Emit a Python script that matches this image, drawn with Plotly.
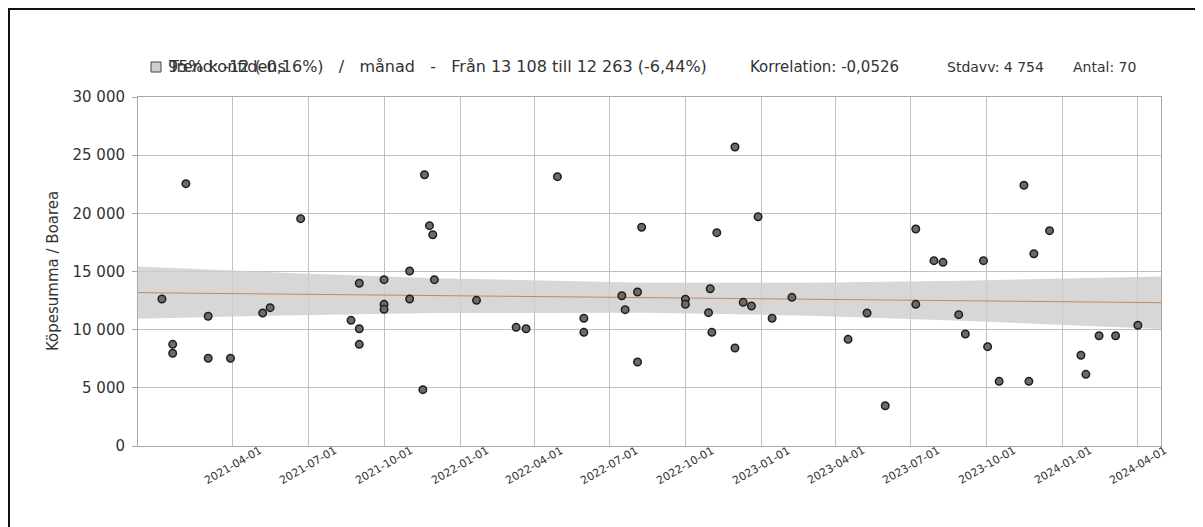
import plotly.graph_objects as go

# ---- data ----
sale_dates = [
    "2021-01-05", "2021-01-18", "2021-01-18", "2021-02-03", "2021-03-02", "2021-03-02",
    "2021-03-29", "2021-05-07", "2021-05-16", "2021-06-22", "2021-08-22", "2021-09-01",
    "2021-09-01", "2021-09-01", "2021-10-01", "2021-10-01", "2021-10-01", "2021-11-01",
    "2021-11-01", "2021-11-17", "2021-11-19", "2021-11-25", "2021-11-29", "2021-12-01",
    "2022-01-21", "2022-03-10", "2022-03-22", "2022-04-29", "2022-05-31", "2022-05-31",
    "2022-07-16", "2022-07-20", "2022-08-04", "2022-08-04", "2022-08-09", "2022-10-01",
    "2022-10-01", "2022-10-29", "2022-10-31", "2022-11-02", "2022-11-08", "2022-11-30",
    "2022-11-30", "2022-12-10", "2022-12-20", "2022-12-28", "2023-01-14", "2023-02-07",
    "2023-04-16", "2023-05-09", "2023-05-31", "2023-07-07", "2023-07-07", "2023-07-29",
    "2023-08-09", "2023-08-28", "2023-09-05", "2023-09-27", "2023-10-02", "2023-10-16",
    "2023-11-15", "2023-11-21", "2023-11-27", "2023-12-16", "2024-01-23", "2024-01-29",
    "2024-02-14", "2024-03-05", "2024-04-01",
]
price_per_area = [
    12640, 8740, 7970, 22550, 11150, 7540,
    7540, 11430, 11890, 19540, 10800, 13990,
    10080, 8740, 14300, 12180, 11750, 15040,
    12640, 4840, 23320, 18940, 18160, 14300,
    12520, 10200, 10080, 23150, 10980, 9770,
    12920, 11720, 13240, 7220, 18800, 12610,
    12180, 11460, 13520, 9770, 18340, 25700,
    8420, 12350, 12030, 19710, 10980, 12780,
    9170, 11430, 3460, 18650, 12180, 15930,
    15790, 11290, 9630, 15930, 8540, 5560,
    22410, 5560, 16530, 18510, 7800, 6160,
    9480, 9480, 10380,
]

trend_dates = ["2020-12-07", "2024-04-29"]
trend_values = [13180, 12320]

band_dates = ["2020-12-07", "2021-06-01", "2021-12-01", "2022-08-15",
              "2023-03-01", "2023-09-01", "2024-04-29"]
band_upper = [15420, 14895, 14430, 14042, 14033, 14206, 14577]
band_lower = [10940, 11221, 11432, 11462, 11197, 10768, 10063]

x_tick_dates = ["2021-04-01", "2021-07-01", "2021-10-01", "2022-01-01", "2022-04-01",
                "2022-07-01", "2022-10-01", "2023-01-01", "2023-04-01", "2023-07-01",
                "2023-10-01", "2024-01-01", "2024-04-01"]
y_ticks = [0, 5000, 10000, 15000, 20000, 25000, 30000]

NB = "\u00a0"
legend_band = "95% konfidens"
legend_trend = ("Trend: -12 (-0,16%)" + NB * 3 + "/" + NB * 3 + "månad"
                + NB * 3 + "-" + NB * 3 + "Från 13 108 till 12 263 (-6,44%)")
stat_corr = "Korrelation: -0,0526"
stat_std = "Stdavv: 4 754"
stat_n = "Antal: 70"
y_title = "Köpesumma / Boarea"

# ---- layout geometry (figure pixels) ----
W, H = 1195, 519
L, R, T, B = 130, 1153, 89, 438


def px_x(p):
    return (p - L) / (R - L)


def px_y(p):
    return (B - p) / (B - T)


FONT = "DejaVu Sans, Verdana, sans-serif"
TXT = "#333333"

fig = go.Figure()

# confidence band
fig.add_trace(go.Scatter(
    x=band_dates + band_dates[::-1],
    y=band_upper + band_lower[::-1],
    fill="toself", fillcolor="rgba(205,205,205,0.8)",
    line=dict(width=0), mode="lines", hoverinfo="skip", showlegend=False,
))
# trend line
fig.add_trace(go.Scatter(
    x=trend_dates, y=trend_values, mode="lines",
    line=dict(color="#c8875a", width=1), hoverinfo="skip", showlegend=False,
))
# points
fig.add_trace(go.Scatter(
    x=sale_dates, y=price_per_area, mode="markers",
    marker=dict(size=7.5, color="#6e6a66", line=dict(color="#1e1e1e", width=1.5)),
    showlegend=False,
))

ann = []
header = [
    (legend_band, 158, 16),
    (legend_trend, 158, 16),
    (stat_corr, 740, 15),
    (stat_std, 937, 14),
    (stat_n, 1063, 14),
]
for text, xp, size in header:
    ann.append(dict(
        text=text, x=px_x(xp), y=px_y(59), xref="paper", yref="paper",
        xanchor="left", yanchor="middle", showarrow=False,
        font=dict(family=FONT, size=size, color=TXT),
    ))
ann.append(dict(
    text=y_title, x=px_x(45), y=px_y(263), xref="paper", yref="paper",
    xanchor="center", yanchor="middle", textangle=-90, showarrow=False,
    font=dict(family=FONT, size=15, color=TXT),
))
# rotated x tick labels, centred under their ticks
for d in x_tick_dates:
    ann.append(dict(
        text=d, x=d, y=px_y(457), xref="x", yref="paper",
        xanchor="center", yanchor="middle", textangle=-30, showarrow=False,
        font=dict(family=FONT, size=11, color=TXT),
    ))

shapes = [
    # legend swatch
    dict(type="rect", xref="paper", yref="paper",
         x0=px_x(143), x1=px_x(153), y0=px_y(64), y1=px_y(54),
         fillcolor="#cfcfcf", line=dict(color="#444444", width=1)),
    # outer frame (top and left)
    dict(type="line", xref="paper", yref="paper",
         x0=px_x(0), x1=px_x(W + 5), y0=px_y(1), y1=px_y(1),
         line=dict(color="#111111", width=2)),
    dict(type="line", xref="paper", yref="paper",
         x0=px_x(1), x1=px_x(1), y0=px_y(0), y1=px_y(H + 5),
         line=dict(color="#111111", width=2)),
]

fig.update_layout(
    width=W, height=H,
    margin=dict(l=L, r=W - R, t=T, b=H - B, autoexpand=False),
    paper_bgcolor="white", plot_bgcolor="white",
    separators=", ",
    font=dict(family=FONT, size=12, color=TXT),
    annotations=ann, shapes=shapes,
    showlegend=False,
)
fig.update_xaxes(
    type="date", range=["2020-12-07", "2024-04-29"],
    tickvals=x_tick_dates, showticklabels=False,
    showgrid=True, gridcolor="#c0c0c0", gridwidth=1,
    showline=True, linecolor="#a8a8a8", linewidth=1, mirror=True,
    ticks="", zeroline=False,
)
fig.update_yaxes(
    range=[0, 30000], tickvals=y_ticks, tickformat=",d",
    showgrid=True, gridcolor="#c0c0c0", gridwidth=1,
    showline=True, linecolor="#a8a8a8", linewidth=1, mirror=True,
    ticks="outside", ticklen=5, tickcolor="#a8a8a8", ticklabelstandoff=4,
    tickfont=dict(family=FONT, size=15, color=TXT), zeroline=False,
)

fig.write_html("out.html")
